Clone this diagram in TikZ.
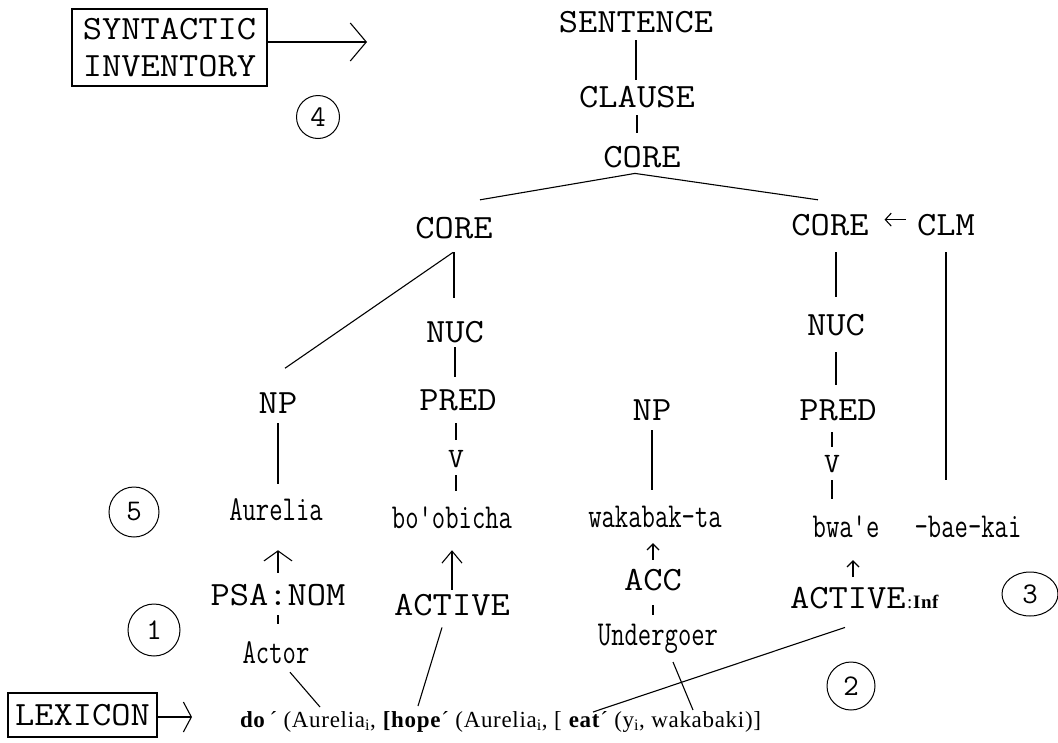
\documentclass[tikz,border=0pt]{standalone}
\usepackage{fontspec}
\newfontfamily\formfont[LetterSpace=3]{Liberation Serif}
\usetikzlibrary{arrows.meta,calc,shapes.geometric}

% tree labels: light slab typewriter face; capitals widened, lower case narrowed
\newcommand\capt[1]{\scalebox{1.1}[1]{\ttfamily\fontsize{34}{36}\selectfont #1}}
\newcommand\lowt[1]{\scalebox{0.74}[1]{\ttfamily\fontsize{35}{36}\selectfont #1}}

\begin{document}
\begin{tikzpicture}[x=1pt, y=-1pt,
  every node/.style={inner sep=0pt, outer sep=0pt},
  lab/.style={anchor=base},
  link/.style={line width=1.1pt},
  upbarb/.style={link, -{Straight Barb[length=#1]}},
  boxlab/.style={draw, line width=1.2pt, align=center},
  circmark/.style={draw, circle, line width=1pt, minimum size=#1,
                   font=\ttfamily\fontsize{30}{30}\selectfont}]

\useasboundingbox (0,0) rectangle (1058,742);
\fill[white] (0,0) rectangle (1058,742);

% ---------- inventory and lexicon boxes ----------
\node[boxlab, minimum width=195pt, minimum height=77pt,
      font=\ttfamily\fontsize{34}{37}\selectfont] (si) at (169.5,47.5)
  {\capt{SYNTACTIC}\\\capt{INVENTORY}};
\coordinate (siTip) at (367,42);
\draw[link, -{Straight Barb[length=16pt,width=38pt]}] (si.east |- siTip) -- (siTip);

\node[boxlab, minimum width=149pt, minimum height=44pt] (lex) at (82.5,715) {\capt{LEXICON}};
\coordinate (lexTip) at (192,717);
\draw[link, -{Straight Barb[length=8pt,width=30pt]}] (lex.east |- lexTip) -- (lexTip);

% ---------- numbered steps ----------
\node[circmark=43pt] (c4) at (318,117) {4};
\node[circmark=50pt] (c5) at (134,512) {5};
\node[circmark=52pt] (c1) at (154,630) {1};
\node[circmark=48pt] (c2) at (851,686) {2};
\node[draw, ellipse, line width=1pt, minimum width=56pt, minimum height=44pt,
      font=\ttfamily\fontsize{30}{30}\selectfont] (c3) at (1030,594) {3};

% ---------- tree labels ----------
\node[lab] (sent)    at (636,32)  {\capt{SENTENCE}};
\node[lab] (clause)  at (637,107) {\capt{CLAUSE}};
\node[lab] (coretop) at (642,167) {\capt{CORE}};
\node[lab] (corel)   at (454,238) {\capt{CORE}};
\node[lab] (corer)   at (830,235) {\capt{CORE}};
\node[lab] (clm)     at (946,235) {\capt{CLM}};
\node[lab] (nucl)    at (455,342) {\capt{NUC}};
\node[lab] (nucr)    at (836,335) {\capt{NUC}};
\node[lab] (npl)     at (278,413) {\capt{NP}};
\node[lab] (predl)   at (458,410) {\capt{PRED}};
\node[lab] (npm)     at (652,420) {\capt{NP}};
\node[lab] (predr)   at (838,420) {\capt{PRED}};
\node[lab] (vl)      at (456,467) {\scalebox{1.1}[1]{\ttfamily\fontsize{28}{30}\selectfont V}};
\node[lab] (vr)      at (832,472) {\scalebox{1.1}[1]{\ttfamily\fontsize{28}{30}\selectfont V}};
\node[lab] (aurelia) at (276,520) {\lowt{Aurelia}};
\node[lab] (boob)    at (452,528) {\lowt{bo'obicha}};
\node[lab] (wakabak) at (655,527) {\lowt{wakabak-ta}};
\node[lab] (bwae)    at (846,537) {\lowt{bwa'e}};
\node[lab] (baekai)  at (968,537) {\lowt{-bae-kai}};
\node[lab] (psanom)  at (278,605) {\capt{PSA:NOM}};
\node[lab] (activel) at (452,615) {\capt{ACTIVE}};
\node[lab] (acc)     at (653,590) {\capt{ACC}};
\node[anchor=base west] (actinf) at (790,608)
  {\capt{ACTIVE}\,{\formfont\fontsize{19}{20}\selectfont :\textbf{Inf}}};
\node[lab] (actor)     at (276,663) {\lowt{Actor}};
\node[lab] (undergoer) at (658,645) {\lowt{Undergoer}};

% logical structure
\node[anchor=base west] (form) at (240,727)
  {\formfont\fontsize{23}{25}\selectfont
   \textbf{do}\,´ (Aurelia\textsubscript{i}, \textbf{[hope}´ (Aurelia\textsubscript{i}, [ \textbf{eat}´ (y\textsubscript{i}, wakabaki)]};

% ---------- connectors ----------
\draw[link, shorten <=8pt, shorten >=6pt]  (sent.south) -- (sent.south |- clause.north);
\draw[link, shorten <=8pt, shorten >=13pt] (clause.south) -- (clause.south |- coretop.north);
\coordinate (apex) at ($(coretop.south)+(-7,6)$);
\draw[link] ($(corel.north)+(26,-17)$) -- (apex) -- ($(corer.north)+(-12,-14)$);

\draw[link, shorten <=14pt, shorten >=23pt] (corel.south) -- (corel.south |- nucl.north);
\draw[link] ($(corel.south)+(-1,14)$) -- ($(npl.north)+(7,-24)$);
\draw[link, shorten <=5pt, shorten >=12pt]  (nucl.south) -- (nucl.south |- predl.north);
\draw[link, shorten <=13pt, shorten >=10pt] (vl.north |- predl.south) -- (vl.north);
\draw[link, shorten <=8pt, shorten >=15pt]  (vl.south) -- (vl.south |- boob.north);
\draw[link, shorten <=10pt, shorten >=14pt] (npl.south) -- (npl.south |- aurelia.north);
\draw[upbarb={10pt,width=28pt}, shorten <=11pt, shorten >=30pt] (psanom.north) -- (psanom.north |- aurelia.south);
\draw[upbarb={12pt,width=20pt}, shorten <=4pt, shorten >=22pt]  (activel.north) -- (activel.north |- boob.south);
\draw[link, shorten <=10pt, shorten >=17pt] (psanom.south) -- (psanom.south |- actor.north);

\draw[link, shorten <=17pt, shorten >=17pt] (corer.south -| nucr.north) -- (nucr.north);
\draw[link, shorten <=17pt, shorten >=14pt] (nucr.south) -- (nucr.south |- predr.north);
\draw[link, shorten <=12pt, shorten >=8pt]  (vr.north |- predr.south) -- (vr.north);
\draw[link, shorten <=8pt, shorten >=16pt]  (vr.south) -- (vr.south |- bwae.north);
\draw[link, shorten <=17pt, shorten >=36pt] (clm.south) -- (clm.south |- baekai.north);
\draw[upbarb={6pt,width=13pt}] ($(clm.west)+(-11,-5)$) -- ($(corer.east)+(16,-5)$);
\draw[upbarb={6pt,width=12pt}] ($(bwae.south)+(7,40)$) -- ($(bwae.south)+(7,23)$);

\draw[link, shorten <=10pt, shorten >=16pt] (npm.south) -- (npm.south |- wakabak.north);
\draw[upbarb={6pt,width=12pt}, shorten <=9pt, shorten >=16pt] (acc.north) -- (acc.north |- wakabak.south);
\draw[link, shorten <=15pt, shorten >=9pt] (acc.south) -- (acc.south |- undergoer.north);

% links down to the logical structure
\draw[link] ($(actor.south)+(14,9)$) -- ($(form.base west)+(80,-20)$);
\draw[link] ($(activel.south)+(-10,12)$) -- ($(form.base west)+(178,-21)$);
\draw[link] ($(undergoer.south)+(15,9)$) -- ($(form.base west)+(453,-17)$);
\draw[link] ($(actinf.south west)+(55,19)$) -- ($(form.base west)+(353,-15)$);

\end{tikzpicture}
\end{document}
